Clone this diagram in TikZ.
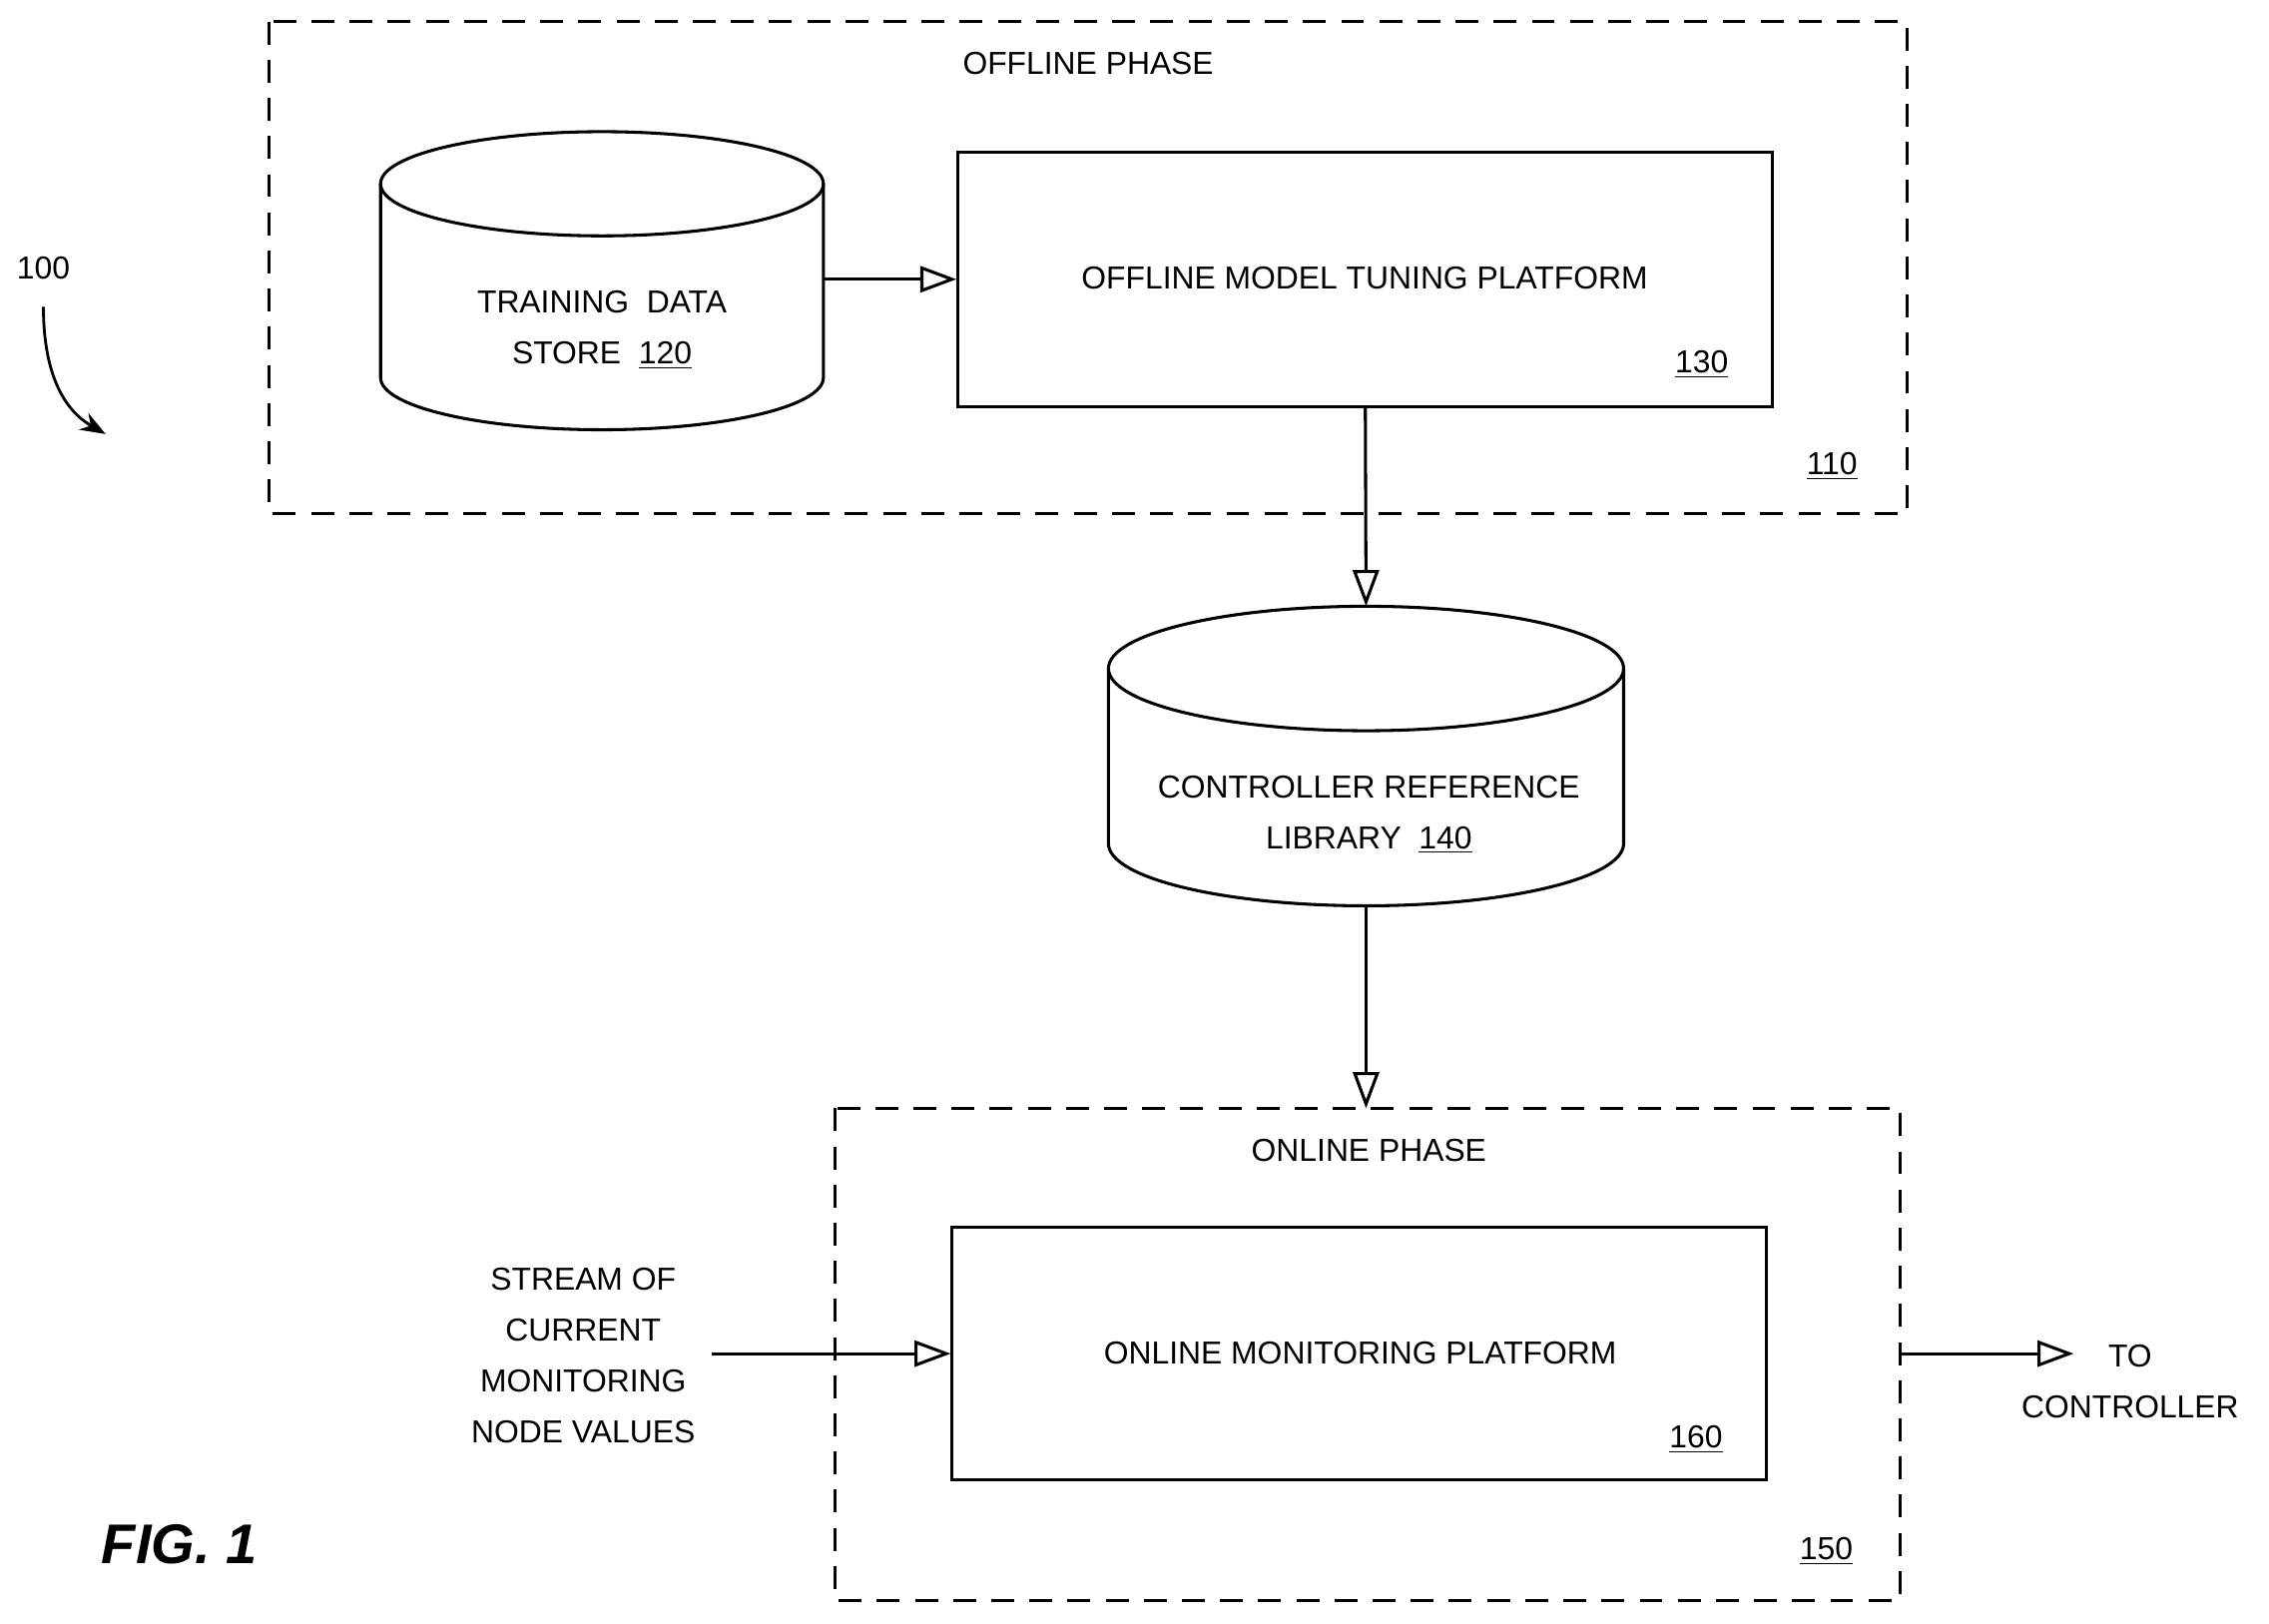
\documentclass[tikz,border=0pt]{standalone}
\usepackage{fontspec}
\setmainfont{Liberation Sans}
\usetikzlibrary{arrows.meta}
\tikzset{
  phase/.style = {draw, dashed, line width=1.2pt, dash pattern=on 9pt off 6pt},
  block/.style = {draw, line width=1.2pt},
  lbl/.style = {font=\fontsize{12.5}{20}\selectfont, align=center, inner sep=0pt},
  flow/.style = {line width=1.2pt, -{Triangle[open,length=0.5cm,width=0.36cm]}},
}
\newcommand{\cyl}[6]{% name, cx, rx, top y, bottom y, ry
  \draw[block] (#2-#3,#4) -- (#2-#3,#5)
    arc[start angle=180,end angle=360,x radius=#3*0.02cm,y radius=#6*0.02cm] -- (#2+#3,#4);
  \draw[block] (#2,#4) ellipse [x radius=#3*0.02cm,y radius=#6*0.02cm];
  \coordinate (#1-top) at (#2,#4-#6);
  \coordinate (#1-bot) at (#2,#5+#6);
  \coordinate (#1-east) at (#2+#3,#4/2+#5/2);
}
\begin{document}
\begin{tikzpicture}[x=0.02cm,y=-0.02cm]
\useasboundingbox (0,0) rectangle (1568,1122);

% offline phase
\draw[phase] (186,15) rectangle (1318,355);
\node[lbl] (offlbl) at (752,44) {OFFLINE PHASE};
\node[lbl] (n110) at (1266,322) {\underline{110}};

\cyl{tds}{416}{153}{127}{261}{36}
\node[lbl] (tdstext) at (416,228) {TRAINING\ \ DATA\\STORE\ \ \underline{120}};

\node[block, minimum width=11.26cm, minimum height=3.52cm] (tune) at (943.5,193) {};
\node[lbl] (tunetext) at (943,192) {OFFLINE MODEL TUNING PLATFORM};
\node[lbl] (n130) at (1176,252) {\underline{130}};

\draw[flow] (tune.west -| tds-east) -- (tune.west);

% library
\cyl{lib}{944}{178}{462}{583}{43}
\node[lbl] (libtext) at (946,563) {CONTROLLER REFERENCE\\LIBRARY\ \ \underline{140}};
\draw[flow] (tune.south) -- (lib-top);

% online phase
\draw[phase] (577,766) rectangle (1313,1106);
\coordinate (ontop) at (944,766);
\node[lbl] (onlbl) at (946,795) {ONLINE PHASE};
\node[lbl] (n150) at (1262,1072) {\underline{150}};
\draw[flow] (lib-bot) -- (ontop);

\node[block, minimum width=11.26cm, minimum height=3.5cm] (mon) at (939.5,935.5) {};
\node[lbl] (montext) at (940,935) {ONLINE MONITORING PLATFORM};
\node[lbl] (n160) at (1172,995) {\underline{160}};

\node[lbl] (stream) at (403,937) {STREAM OF\\CURRENT\\MONITORING\\NODE VALUES};
\coordinate (streamend) at (492,935.5);
\draw[flow] (streamend) -- (mon.west);

\coordinate (outstart) at (1313,935.5);
\coordinate (outend) at (1433,935.5);
\draw[flow] (outstart) -- (outend);
\node[lbl] (ctrl) at (1472,955) {TO\\CONTROLLER};

% reference numeral
\node[lbl] (n100) at (30,185) {100};
\coordinate (n100end) at (73,300);
\draw[line width=1.1pt, -{Stealth[length=0.35cm]}] (30,212) to[out=-90,in=150] (n100end);

\node[font=\fontsize{22}{24}\selectfont\bfseries\itshape, inner sep=0pt] (fig) at (124,1067) {FIG. 1};
\end{tikzpicture}
\end{document}
